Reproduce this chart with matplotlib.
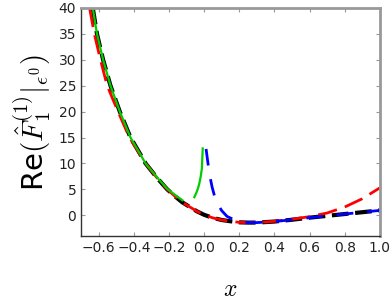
from matplotlib import pyplot as plt

plt.rcParams['mathtext.fontset'] = 'cm'

# exact curve (black)
x_exact = [-0.634, -0.610, -0.575, -0.533, -0.48, -0.419, -0.333, -0.27, -0.21, -0.16,
           -0.124, -0.076, -0.04, 0.0, 0.05, 0.1, 0.15, 0.2, 0.25, 0.3, 0.4, 0.5,
           0.6, 0.7, 0.8, 0.9, 1.0]
y_exact = [40, 35, 30, 25, 20, 15, 10, 7.3, 5, 3.5,
           2.5, 1.5, 0.75, 0.1, -0.5, -0.9, -1.15, -1.35, -1.4, -1.4, -1.2, -0.85,
           -0.45, -0.1, 0.25, 0.6, 0.95]

# red dashed approximation
x_red = [-0.652, -0.625, -0.59, -0.552, -0.49, -0.425, -0.333, -0.27, -0.21, -0.16,
         -0.124, -0.076, -0.04, 0.0, 0.05, 0.1, 0.15, 0.2, 0.25, 0.3, 0.4, 0.5,
         0.6, 0.7, 0.8, 0.9, 1.0]
y_red = [40, 35, 30, 25, 20, 15, 10, 7.3, 5, 3.5,
         2.5, 1.5, 0.75, 0.1, -0.5, -0.9, -1.15, -1.35, -1.4, -1.4, -1.15, -0.75,
         -0.25, 0.45, 1.6, 3.2, 5.3]

# green solid, left branch and the piece next to 0
x_green1 = [-0.634, -0.610, -0.575, -0.533, -0.48, -0.419, -0.333, -0.27, -0.21, -0.16, -0.124]
y_green1 = [40, 35, 30, 25, 20, 15, 10, 7.4, 5.1, 3.8, 2.9]
x_green2 = [-0.056, -0.045, -0.035, -0.027, -0.02, -0.013, -0.008]
y_green2 = [3.5, 4.3, 5.2, 6.2, 7.4, 9.0, 12.9]

# blue dashed, right branch
x_blue = [0.011, 0.02, 0.03, 0.045, 0.06, 0.08, 0.1, 0.13, 0.18, 0.22, 0.25, 0.3,
          0.4, 0.5, 0.6, 0.7, 0.8, 0.9, 1.0]
y_blue = [12.8, 10.5, 8.0, 5.5, 3.6, 2.0, 0.9, -0.2, -1.0, -1.35, -1.4, -1.4,
          -1.2, -0.85, -0.45, -0.1, 0.25, 0.6, 0.95]

fig = plt.figure(figsize=(3.92, 3.05), dpi=100)
ax = fig.add_axes([0.207, 0.226, 0.762, 0.748])

ax.plot(x_exact, y_exact, c='black', lw=3, ls='--', dashes=(4, 1.6))
ax.plot(x_red, y_red, c='red', lw=2, ls='--', dashes=(7, 3))
ax.plot(x_green1, y_green1, c='#00cc00', lw=1.6)
ax.plot(x_green2, y_green2, c='#00cc00', lw=1.6)
ax.plot(x_blue, y_blue, c='blue', lw=2, ls='--', dashes=(6, 5))

ax.set_xlim(-0.7, 1.0)
ax.set_ylim(-4, 40)
ax.set_xticks([-0.6, -0.4, -0.2, 0.0, 0.2, 0.4, 0.6, 0.8, 1.0])
ax.set_yticks([0, 5, 10, 15, 20, 25, 30, 35, 40])

for side in ['top', 'right']:
    ax.spines[side].set_color('#999999')
    ax.spines[side].set_linewidth(2)
for side in ['left', 'bottom']:
    ax.spines[side].set_color('#333333')
    ax.spines[side].set_linewidth(1)
ax.tick_params(direction='in', top=True, right=True, length=3, color='#999999',
               labelsize=10, labelcolor='#222222')

ax.set_xlabel('$x$', fontsize=17, labelpad=16)
ax.set_ylabel(r'Re$(\hat{F}_1^{(1)}|_{\epsilon^0})$', fontsize=21, labelpad=4)

fig.savefig('out.png', dpi=100)
